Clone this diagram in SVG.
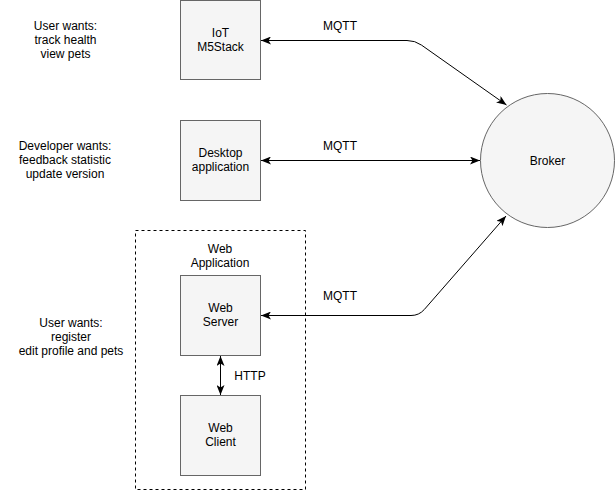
<svg xmlns="http://www.w3.org/2000/svg" width="615" height="491" viewBox="0 0 615 491">
  <style>
    text { font-family: "Liberation Sans", Arial, Helvetica, sans-serif; font-size: 12px; fill: #000000; text-anchor: middle; }
    .box { fill: #f5f5f5; stroke: #666666; stroke-width: 1; }
    .edge { fill: none; stroke: #000000; stroke-width: 1; }
    .container { fill: none; stroke: #000000; stroke-width: 1; stroke-dasharray: 3 3; }
  </style>
  <defs>
    <marker id="arrow" viewBox="0 0 10 8" refX="10" refY="4" markerWidth="10" markerHeight="8" markerUnits="userSpaceOnUse" orient="auto-start-reverse">
      <path d="M0,0 L10,4 L0,8 L2.5,4 Z" fill="#000000"/>
    </marker>
  </defs>
  <rect width="615" height="491" fill="#ffffff"/>

  <g id="label-user1">
    <text x="65.5" y="30">User wants:</text>
    <text x="65.5" y="44">track health</text>
    <text x="65.5" y="58">view pets</text>
  </g>
  <g id="label-developer">
    <text x="65" y="150">Developer wants:</text>
    <text x="65" y="164">feedback statistic</text>
    <text x="65" y="178">update version</text>
  </g>
  <g id="label-user2">
    <text x="71" y="327">User wants:</text>
    <text x="71" y="341">register</text>
    <text x="71" y="355">edit profile and pets</text>
  </g>

  <g id="web-application">
    <rect class="container" x="135.5" y="230.5" width="170" height="259"/>
    <text x="220" y="253">Web</text>
    <text x="220" y="267">Application</text>
  </g>

  <g id="iot">
    <rect class="box" x="180.5" y="0.5" width="80" height="79"/>
    <text x="220.5" y="37">IoT</text>
    <text x="220.5" y="51">M5Stack</text>
  </g>
  <g id="desktop">
    <rect class="box" x="180.5" y="120.5" width="80" height="80"/>
    <text x="220.5" y="157">Desktop</text>
    <text x="220.5" y="171">application</text>
  </g>
  <g id="web-server">
    <rect class="box" x="180.5" y="275.5" width="80" height="80"/>
    <text x="220.5" y="312">Web</text>
    <text x="220.5" y="326">Server</text>
  </g>
  <g id="web-client">
    <rect class="box" x="180.5" y="395.5" width="80" height="80"/>
    <text x="220.5" y="432">Web</text>
    <text x="220.5" y="446">Client</text>
  </g>
  <g id="broker">
    <circle class="box" cx="547.5" cy="160.5" r="67"/>
    <text x="547.5" y="165">Broker</text>
  </g>

  <g id="connectors">
    <path class="edge" d="M261,40.5 L407,40.5 Q415,40.5 421.5,45.1 L506.5,105" marker-start="url(#arrow)" marker-end="url(#arrow)"/>
    <text x="340" y="30">MQTT</text>
    <path class="edge" d="M261,160.5 L480,160.5" marker-start="url(#arrow)" marker-end="url(#arrow)"/>
    <text x="340" y="150">MQTT</text>
    <path class="edge" d="M261,315.5 L411,315.5 Q419,315.5 424.3,309.5 L506,216" marker-start="url(#arrow)" marker-end="url(#arrow)"/>
    <text x="340" y="300">MQTT</text>
    <path class="edge" d="M220.5,356 L220.5,395" marker-start="url(#arrow)" marker-end="url(#arrow)"/>
    <text x="250" y="380">HTTP</text>
  </g>
</svg>
